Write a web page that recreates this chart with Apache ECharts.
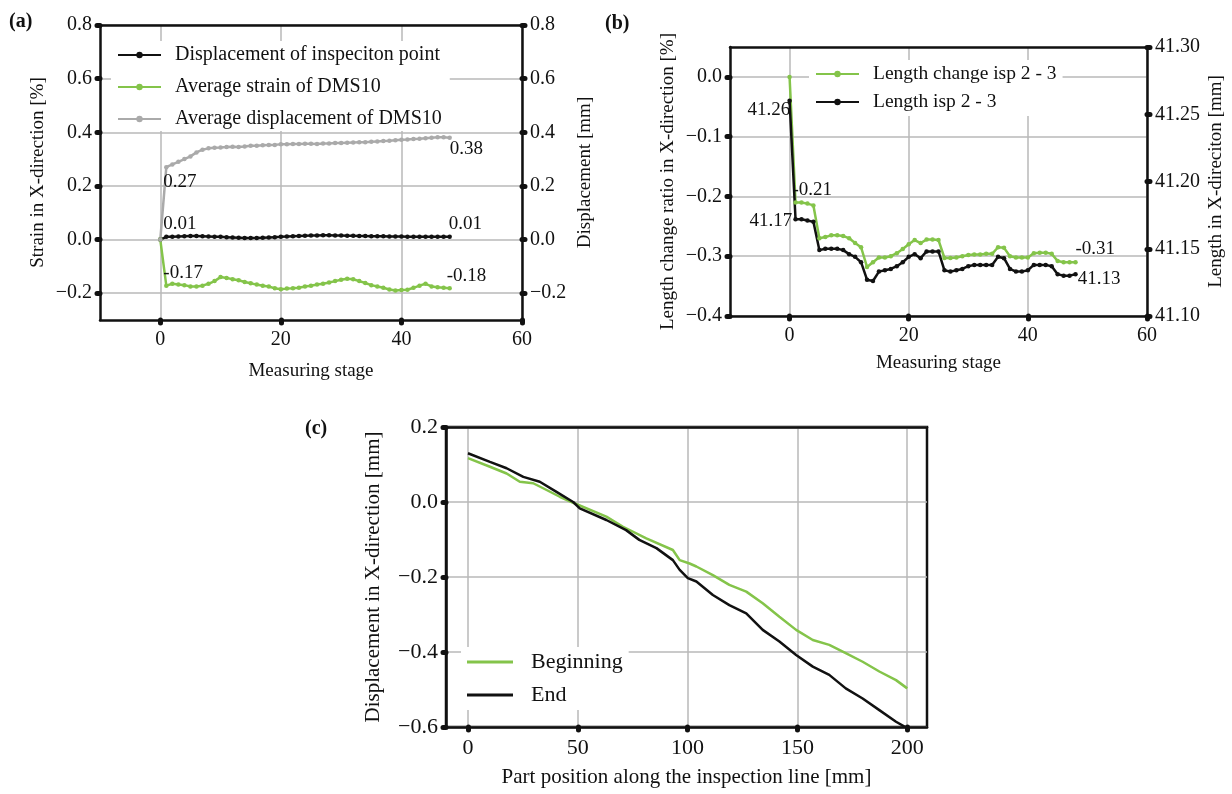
<!DOCTYPE html>
<html>
<head>
<meta charset="utf-8">
<script src="https://cdn.jsdelivr.net/npm/echarts@6/dist/echarts.min.js"></script>
<style>
  html, body { margin: 0; padding: 0; background: #fff; }
  #chart { width: 1232px; height: 794px; }
</style>
</head>
<body>
<div id="chart"></div>
<script>
// (a) measuring stages 0..48
const stagesA = [0,1,2,3,4,5,6,7,8,9,10,11,12,13,14,15,16,17,18,19,20,21,22,23,24,
  25,26,27,28,29,30,31,32,33,34,35,36,37,38,39,40,41,42,43,44,45,46,47,48];
const dispInspPoint = [0,0.01,0.01,0.011,0.012,0.013,0.013,0.012,0.011,0.01,0.01,0.009,0.008,
  0.007,0.006,0.006,0.006,0.007,0.008,0.009,0.01,0.011,0.012,0.013,0.014,0.015,0.015,0.016,
  0.016,0.015,0.015,0.014,0.014,0.013,0.013,0.012,0.012,0.012,0.011,0.011,0.011,0.01,0.01,
  0.01,0.01,0.01,0.01,0.01,0.01];
const strainDms10 = [0,-0.172,-0.165,-0.168,-0.17,-0.175,-0.175,-0.172,-0.165,-0.155,-0.14,
  -0.143,-0.148,-0.152,-0.158,-0.163,-0.168,-0.172,-0.175,-0.182,-0.185,-0.183,-0.182,-0.18,
  -0.175,-0.172,-0.168,-0.165,-0.16,-0.155,-0.15,-0.146,-0.148,-0.155,-0.162,-0.17,-0.175,
  -0.18,-0.186,-0.19,-0.188,-0.187,-0.18,-0.172,-0.165,-0.175,-0.178,-0.18,-0.182];
const dispDms10 = [0,0.27,0.28,0.29,0.3,0.31,0.325,0.335,0.34,0.342,0.343,0.345,0.346,0.345,
  0.347,0.35,0.35,0.352,0.353,0.353,0.355,0.355,0.356,0.356,0.357,0.357,0.356,0.358,0.358,
  0.36,0.36,0.361,0.362,0.363,0.363,0.365,0.366,0.367,0.368,0.37,0.372,0.373,0.375,0.376,
  0.378,0.38,0.381,0.381,0.38];

// (b) length change between inspection points 2 and 3
const stagesB = stagesA;
const lenChangeRatio = [0,-0.21,-0.21,-0.212,-0.215,-0.27,-0.268,-0.265,-0.265,-0.266,-0.27,
  -0.278,-0.285,-0.318,-0.31,-0.302,-0.302,-0.3,-0.295,-0.288,-0.28,-0.273,-0.278,-0.272,
  -0.272,-0.273,-0.303,-0.303,-0.302,-0.3,-0.298,-0.297,-0.297,-0.296,-0.296,-0.285,-0.286,
  -0.3,-0.302,-0.302,-0.302,-0.295,-0.294,-0.294,-0.296,-0.308,-0.31,-0.31,-0.31];
const lenIsp23 = [41.26,41.172,41.172,41.171,41.17,41.149,41.15,41.15,41.15,41.149,41.146,
  41.144,41.14,41.127,41.126,41.133,41.134,41.135,41.137,41.14,41.144,41.146,41.143,41.148,
  41.148,41.148,41.134,41.133,41.134,41.135,41.137,41.138,41.138,41.138,41.138,41.144,
  41.143,41.135,41.133,41.133,41.134,41.138,41.138,41.138,41.137,41.131,41.13,41.13,41.131];

// (c) displacement along the inspection line
const posBegin = [0,10,17.6,23.6,29.7,35.8,41.8,47.9,63,70.6,81.2,93.3,96.4,100.9,104,111.5,
  119,126.7,134.2,141.8,149.4,157,164.5,172,179.7,187.3,194.9,200];
const dispBegin = [0.117,0.094,0.076,0.054,0.05,0.032,0.014,-0.002,-0.039,-0.066,-0.097,
  -0.128,-0.155,-0.164,-0.172,-0.195,-0.221,-0.239,-0.27,-0.306,-0.341,-0.368,-0.381,-0.403,
  -0.426,-0.452,-0.475,-0.497];
const posEnd = [0,10,17.6,25.2,32.7,40.3,47.9,50.9,63,72,78,85.8,93.3,96.4,100.1,104,111.5,
  119,126.7,134.2,141.8,149.4,157,164.5,172,179.7,187.3,194.9,200];
const dispEnd = [0.13,0.107,0.09,0.067,0.054,0.027,0,-0.017,-0.048,-0.075,-0.101,-0.123,
  -0.155,-0.181,-0.203,-0.212,-0.248,-0.275,-0.297,-0.341,-0.372,-0.408,-0.439,-0.461,-0.497,
  -0.524,-0.555,-0.586,-0.603];

const FONT = 'Liberation Serif';
const INK = '#111';
const GREEN = '#84c44a';
const GRAY = '#aaaaaa';
const GRID_LINE = '#b8b8b8';

const minus = (s) => s.replace('-', '\u2212');

function xAxisFor(gridIndex, min, max, ticks, name, nameGap, fontSize) {
  return {
    type: 'value', gridIndex, min, max,
    name, nameLocation: 'middle', nameGap,
    nameTextStyle: { fontFamily: FONT, fontSize: fontSize - 1, color: INK },
    axisLine: { onZero: false, lineStyle: { color: INK, width: 2.5 } },
    axisTick: { customValues: ticks, length: 3, lineStyle: { color: INK, width: 5, cap: 'round' } },
    axisLabel: { customValues: ticks, margin: 10, fontFamily: FONT, fontSize, color: INK },
    splitLine: { show: true, lineStyle: { color: GRID_LINE, width: 1.5 } },
  };
}

// plain black frame line along the top of a panel
function topFrame(gridIndex, min, max) {
  return {
    type: 'value', gridIndex, min, max, position: 'top',
    axisLine: { onZero: false, lineStyle: { color: INK, width: 2.5 } },
    axisTick: { show: false }, axisLabel: { show: false }, splitLine: { show: false },
  };
}

function yAxisFor(gridIndex, position, min, max, ticks, digits, name, nameGap, fontSize, split) {
  return {
    type: 'value', gridIndex, position, min, max,
    name, nameLocation: 'middle', nameGap, nameRotate: 90,
    nameTextStyle: { fontFamily: FONT, fontSize: fontSize - 1, color: INK },
    axisLine: { show: true, onZero: false, lineStyle: { color: INK, width: 2.5 } },
    axisTick: { show: true, customValues: ticks, length: 3, lineStyle: { color: INK, width: 5, cap: 'round' } },
    axisLabel: {
      customValues: ticks, margin: 8, fontFamily: FONT, fontSize, color: INK,
      formatter: (v) => minus(v.toFixed(digits)),
    },
    splitLine: { show: split, lineStyle: { color: GRID_LINE, width: 1.5 } },
  };
}

// build [x, y] points, putting a text label on chosen indices
function pts(xs, ys, labels) {
  return xs.map((x, i) => {
    const lab = labels && labels[i];
    if (!lab) return [x, ys[i]];
    return {
      value: [x, ys[i]],
      label: Object.assign({
        show: true, fontFamily: FONT, fontSize: 19, color: INK,
        formatter: (p) => p.value[1].toFixed(2),
      }, lab),
    };
  });
}

const last = stagesA.length - 1;
const markerLine = (name, color, xi, yi, xs, ys, labels) => ({
  name, type: 'line', xAxisIndex: xi, yAxisIndex: yi,
  data: pts(xs, ys, labels),
  symbol: 'circle', symbolSize: 4.5, showSymbol: true,
  lineStyle: { color, width: 2.5 }, itemStyle: { color },
  emphasis: { disabled: true },
});

const legendText = (size, gap) => ({ fontFamily: FONT, fontSize: size, color: INK, padding: [0, 0, 0, gap] });

const chart = echarts.init(document.getElementById('chart'), null, { renderer: 'canvas' });

chart.setOption({
  animation: false,
  textStyle: { fontFamily: FONT },
  grid: [
    { left: 100, top: 25, width: 422, height: 295 },
    { left: 730, top: 47, width: 417, height: 269 },
    { left: 446, top: 427, width: 481, height: 300, show: true, borderColor: INK, borderWidth: 2.5 },
  ],
  xAxis: [
    xAxisFor(0, -10, 60, [0, 20, 40, 60], 'Measuring stage', 42, 20),
    xAxisFor(1, -10, 60, [0, 20, 40, 60], 'Measuring stage', 38, 20),
    xAxisFor(2, -10, 209, [0, 50, 100, 150, 200], 'Part position along the inspection line [mm]', 40, 22),
    topFrame(0, -10, 60),
    topFrame(1, -10, 60),
    topFrame(2, -10, 209),
  ],
  yAxis: [
    yAxisFor(0, 'left', -0.3, 0.8, [-0.2, 0, 0.2, 0.4, 0.6, 0.8], 1, 'Strain in X-direction [%]', 52, 20, true),
    yAxisFor(0, 'right', -0.3, 0.8, [-0.2, 0, 0.2, 0.4, 0.6, 0.8], 1, 'Displacement [mm]', 54, 20, false),
    yAxisFor(1, 'left', -0.4, 0.05, [-0.4, -0.3, -0.2, -0.1, 0], 1, 'Length change ratio in X-direction [%]', 52, 20, true),
    yAxisFor(1, 'right', 41.1, 41.3, [41.1, 41.15, 41.2, 41.25, 41.3], 2, 'Length in X-direciton [mm]', 60, 20, false),
    yAxisFor(2, 'left', -0.6, 0.2, [-0.6, -0.4, -0.2, 0, 0.2], 1, 'Displacement in X-direction [mm]', 62, 22, true),
  ],
  legend: [
    {
      data: ['Displacement of inspeciton point', 'Average strain of DMS10', 'Average displacement of DMS10'],
      orient: 'vertical', left: 111, top: 41, itemGap: 12, itemWidth: 43, itemHeight: 8,
      backgroundColor: '#fff', padding: [4, 8, 2, 6],
      textStyle: legendText(20, 9),
    },
    {
      data: ['Length change isp 2 - 3', 'Length isp 2 - 3'],
      orient: 'vertical', left: 809, top: 60, itemGap: 8, itemWidth: 43, itemHeight: 8,
      backgroundColor: '#fff', padding: [4, 6],
      textStyle: legendText(19.5, 9),
    },
    {
      data: [{ name: 'Beginning', icon: 'rect' }, { name: 'End', icon: 'rect' }],
      orient: 'vertical', left: 461, top: 647, itemGap: 11, itemWidth: 46, itemHeight: 3,
      backgroundColor: '#fff', padding: [4, 6],
      textStyle: legendText(22, 13),
    },
  ],
  series: [
    markerLine('Displacement of inspeciton point', INK, 0, 1, stagesA, dispInspPoint, {
      1: { position: 'top', align: 'left', distance: 1, offset: [-3, 0] },
      [last]: { position: 'top', align: 'left', distance: 1, offset: [-1, 0] },
    }),
    markerLine('Average strain of DMS10', GREEN, 0, 0, stagesA, strainDms10, {
      1: { position: 'top', align: 'left', distance: 1, offset: [-3, 0] },
      [last]: { position: 'top', align: 'left', distance: 1, offset: [-3, 0] },
    }),
    markerLine('Average displacement of DMS10', GRAY, 0, 1, stagesA, dispDms10, {
      1: { position: 'bottom', align: 'left', distance: 3, offset: [-3, 0] },
      [last]: { position: 'bottom', align: 'left', distance: 0, offset: [0, 0] },
    }),
    markerLine('Length change isp 2 - 3', GREEN, 1, 2, stagesB, lenChangeRatio, {
      1: { position: 'top', align: 'left', distance: 1, offset: [-3, 0] },
      [last]: { position: 'top', align: 'left', distance: 1, offset: [0, 0] },
    }),
    markerLine('Length isp 2 - 3', INK, 1, 3, stagesB, lenIsp23, {
      0: { position: 'left', distance: 1, offset: [4, 9] },
      1: { position: 'left', distance: 1, offset: [0, 2] },
      [last]: { position: 'right', distance: 0, offset: [0, 5] },
    }),
    {
      name: 'Beginning', type: 'line', xAxisIndex: 2, yAxisIndex: 4,
      data: pts(posBegin, dispBegin), symbol: 'none',
      lineStyle: { color: GREEN, width: 2.5 }, itemStyle: { color: GREEN },
    },
    {
      name: 'End', type: 'line', xAxisIndex: 2, yAxisIndex: 4,
      data: pts(posEnd, dispEnd), symbol: 'none',
      lineStyle: { color: INK, width: 2.5 }, itemStyle: { color: INK },
    },
  ],
  graphic: [
    { type: 'text', left: 9, top: 12, style: { text: '(a)', fontFamily: FONT, fontSize: 20, fontWeight: 'bold', fill: INK } },
    { type: 'text', left: 605, top: 14, style: { text: '(b)', fontFamily: FONT, fontSize: 20, fontWeight: 'bold', fill: INK } },
    { type: 'text', left: 305, top: 419, style: { text: '(c)', fontFamily: FONT, fontSize: 20, fontWeight: 'bold', fill: INK } },
  ],
});
</script>
</body>
</html>
